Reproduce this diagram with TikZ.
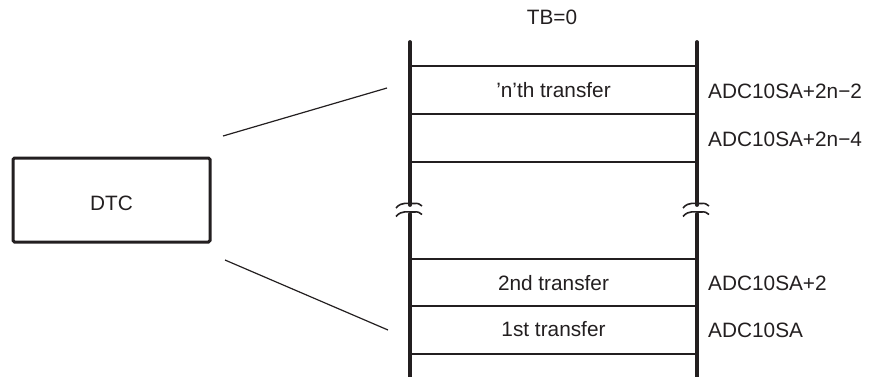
\documentclass[tikz,border=0pt]{standalone}
\usepackage{fontspec}
\setmainfont{Liberation Sans}
\definecolor{ink}{HTML}{231F20}
\begin{document}
\begin{tikzpicture}[x=1pt,y=-1pt,
  lbl/.style={font=\fontsize{20.8}{24}\selectfont, text=ink, inner sep=0pt},
  rail/.style={line width=3.8pt, draw=ink, line cap=round},
  rowline/.style={line width=1.2pt, draw=ink},
  thin/.style={line width=1.2pt, draw=ink},
  brk/.style={line width=1.6pt, draw=ink}]
\useasboundingbox (0,0) rectangle (869,376);
% DTC box
\node[draw=ink, line width=3pt, rounded corners=1.5pt, minimum width=197pt, minimum height=84pt, inner sep=0pt] (dtc) at (111.5,200) {};
\node[lbl, anchor=base] (dtct) at (111.5,210) {DTC};
% coordinates for rails
\coordinate (lt) at (410,42);
\coordinate (lb) at (410,378);
\coordinate (rt) at (697,42);
\coordinate (rb) at (697,378);
\coordinate (lg1) at (410,205);
\coordinate (lg2) at (410,214);
\coordinate (rg1) at (697,205);
\coordinate (rg2) at (697,214);
\draw[rail] (lt) -- (lg1);
\draw[rail] (lg2) -- (lb);
\draw[rail] (rt) -- (rg1);
\draw[rail] (rg2) -- (rb);
% break symbols
\foreach \cx in {410,697}{
  \draw[brk] (\cx-14,208) .. controls (\cx-8,201) and (\cx-2,204) .. (\cx+4,203.5) .. controls (\cx+8,203) and (\cx+10,204) .. (\cx+12,206);
  \draw[brk] (\cx-14,216.5) .. controls (\cx-8,209.5) and (\cx-2,212.5) .. (\cx+4,212) .. controls (\cx+8,211.5) and (\cx+10,212.5) .. (\cx+12,214.5);
}
% row lines
\foreach \yy in {66,114,162,259,306,354}{
  \draw[rowline] (410,\yy) -- (697,\yy);
}
% slanted lines
\coordinate (s1a) at (223,136);
\coordinate (s1b) at (387,88);
\coordinate (s2a) at (225,260);
\coordinate (s2b) at (388,330);
\draw[thin] (s1a) -- (s1b);
\draw[thin] (s2a) -- (s2b);
% labels
\node[lbl, anchor=base] (tb) at (552,24) {TB=0};
\node[lbl, anchor=base] (nth) at (553.5,97.5) {'n'th transfer};
\node[lbl, anchor=base] (t2) at (553.5,290) {2nd transfer};
\node[lbl, anchor=base] (t1) at (553.5,336.5) {1st transfer};
\node[lbl, anchor=base west] (a1) at (708,98) {ADC10SA+2n−2};
\node[lbl, anchor=base west] (a2) at (708,146) {ADC10SA+2n−4};
\node[lbl, anchor=base west] (a3) at (708,290) {ADC10SA+2};
\node[lbl, anchor=base west] (a4) at (708,337) {ADC10SA};
\end{tikzpicture}
\end{document}
